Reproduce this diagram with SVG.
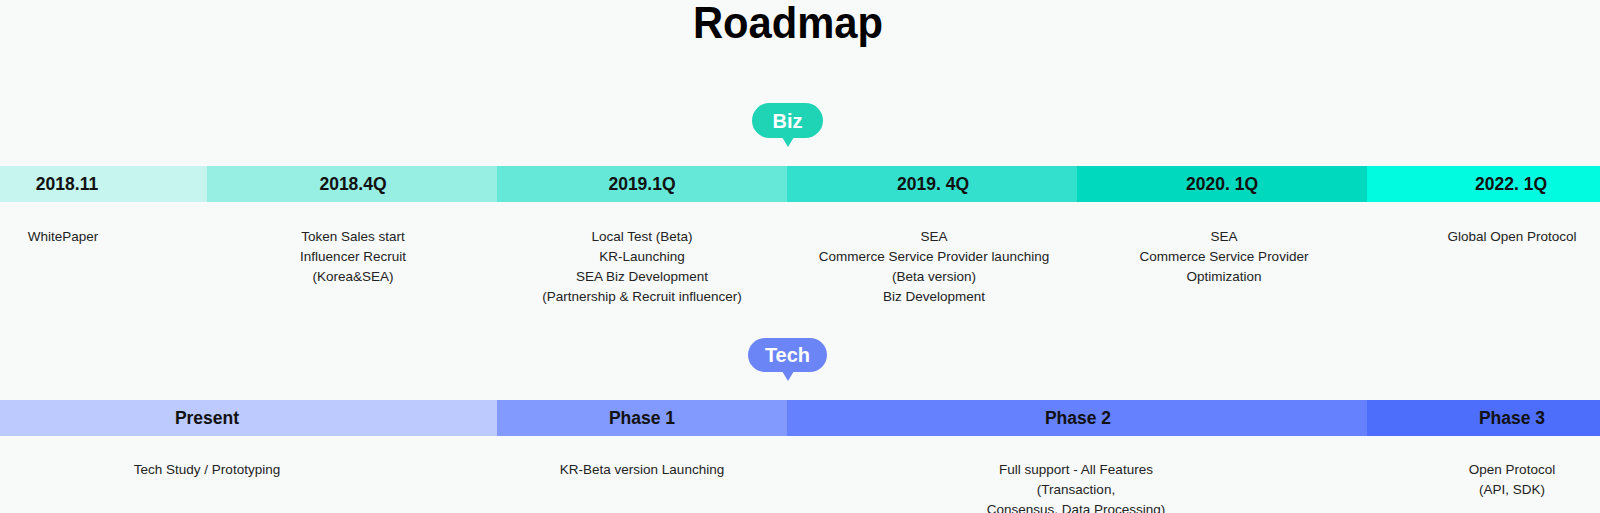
<svg xmlns="http://www.w3.org/2000/svg" width="1600" height="513" viewBox="0 0 1600 513">
<style>
.title{font-family:"Liberation Sans",Arial,sans-serif;font-weight:bold;font-size:45px;fill:#000;text-anchor:middle}
.bar{font-family:"Liberation Sans",Arial,sans-serif;font-weight:bold;font-size:17.5px;fill:#111;text-anchor:middle}
.desc{font-family:"Liberation Sans",Arial,sans-serif;font-size:13.5px;fill:#222;text-anchor:middle}
.tag{font-family:"Liberation Sans",Arial,sans-serif;font-weight:bold;font-size:20px;fill:#fff;text-anchor:middle}
</style>
<rect width="1600" height="513" fill="#f8fafa"/>
<text class="title" x="788" y="38" textLength="190" lengthAdjust="spacingAndGlyphs">Roadmap</text>

<g id="biz-tag">
<rect x="752" y="103" width="71" height="35" rx="17.5" fill="#1fd3b5"/>
<path d="M782 137 L794 137 L788 147 Z" fill="#1fd3b5"/>
<text class="tag" x="787.5" y="128">Biz</text>
</g>

<g id="biz-2018-11">
<rect x="0" y="166" width="208" height="36" fill="#c5f5ee"/>
<text class="bar" x="67" y="190">2018.11</text>
<text class="desc" x="63" y="241">WhitePaper</text>
</g>
<g id="biz-2018-4q">
<rect x="207" y="166" width="291" height="36" fill="#97eee2"/>
<text class="bar" x="353" y="190">2018.4Q</text>
<text class="desc" x="353" y="241">Token Sales start</text>
<text class="desc" x="353" y="261">Influencer Recruit</text>
<text class="desc" x="353" y="281">(Korea&amp;SEA)</text>
</g>
<g id="biz-2019-1q">
<rect x="497" y="166" width="291" height="36" fill="#66e8d9"/>
<text class="bar" x="642" y="190">2019.1Q</text>
<text class="desc" x="642" y="241">Local Test (Beta)</text>
<text class="desc" x="642" y="261">KR-Launching</text>
<text class="desc" x="642" y="281">SEA Biz Development</text>
<text class="desc" x="642" y="301">(Partnership &amp; Recruit influencer)</text>
</g>
<g id="biz-2019-4q">
<rect x="787" y="166" width="291" height="36" fill="#33e0cd"/>
<text class="bar" x="933" y="190">2019. 4Q</text>
<text class="desc" x="934" y="241">SEA</text>
<text class="desc" x="934" y="261">Commerce Service Provider launching</text>
<text class="desc" x="934" y="281">(Beta version)</text>
<text class="desc" x="934" y="301">Biz Development</text>
</g>
<g id="biz-2020-1q">
<rect x="1077" y="166" width="291" height="36" fill="#00d9bd"/>
<text class="bar" x="1222" y="190">2020. 1Q</text>
<text class="desc" x="1224" y="241">SEA</text>
<text class="desc" x="1224" y="261">Commerce Service Provider</text>
<text class="desc" x="1224" y="281">Optimization</text>
</g>
<g id="biz-2022-1q">
<rect x="1367" y="166" width="233" height="36" fill="#00fbe0"/>
<text class="bar" x="1511" y="190">2022. 1Q</text>
<text class="desc" x="1512" y="241">Global Open Protocol</text>
</g>

<g id="tech-tag">
<rect x="748" y="338" width="79" height="34" rx="17" fill="#6b85f6"/>
<path d="M782 371 L794 371 L788 381 Z" fill="#6b85f6"/>
<text class="tag" x="787.5" y="362">Tech</text>
</g>

<g id="tech-present">
<rect x="0" y="400" width="498" height="36" fill="#bccafd"/>
<text class="bar" x="207" y="424">Present</text>
<text class="desc" x="207" y="474">Tech Study / Prototyping</text>
</g>
<g id="tech-phase1">
<rect x="497" y="400" width="291" height="36" fill="#8299fd"/>
<text class="bar" x="642" y="424">Phase 1</text>
<text class="desc" x="642" y="474">KR-Beta version Launching</text>
</g>
<g id="tech-phase2">
<rect x="787" y="400" width="581" height="36" fill="#6681fd"/>
<text class="bar" x="1078" y="424">Phase 2</text>
<text class="desc" x="1076" y="474">Full support - All Features</text>
<text class="desc" x="1076" y="494">(Transaction,</text>
<text class="desc" x="1076" y="514">Consensus, Data Processing)</text>
</g>
<g id="tech-phase3">
<rect x="1367" y="400" width="233" height="36" fill="#4d6dfb"/>
<text class="bar" x="1512" y="424">Phase 3</text>
<text class="desc" x="1512" y="474">Open Protocol</text>
<text class="desc" x="1512" y="494">(API, SDK)</text>
</g>
<g id="connectors"></g>
</svg>
